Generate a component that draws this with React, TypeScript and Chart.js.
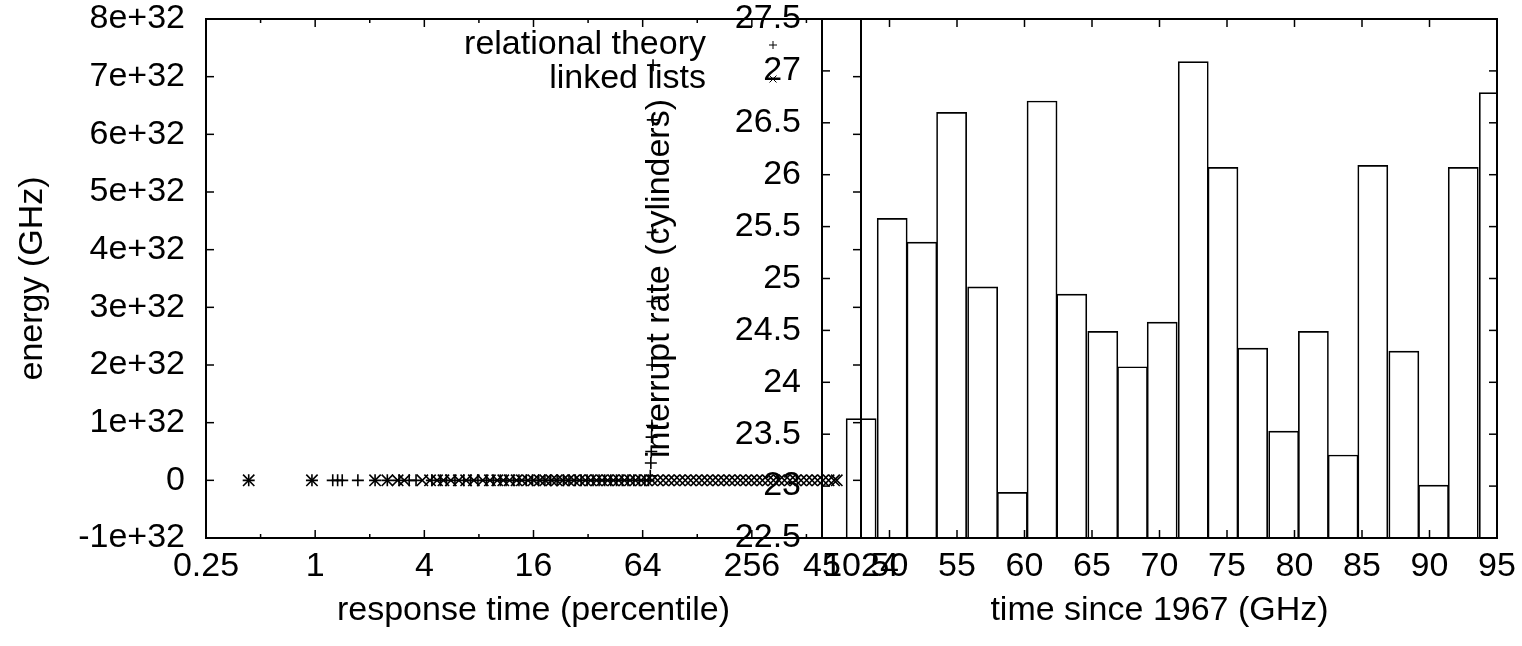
import React, { useEffect, useRef } from 'react';
import { Chart, registerables } from 'chart.js';

Chart.register(...registerables);

const FONT = "'Liberation Sans', Arial, Helvetica, sans-serif";
const FONT_SIZE = 34;

// ---- left plot: scatter on log2 x axis ----
const relationalX = [0.43, 0.96, 1.25, 1.33, 1.41, 1.72, 2.14, 2.5, 2.9, 3.3, 3.6, 4.4, 4.9, 5.3, 5.9, 6.6, 7.2, 7.9, 8.8, 9.6, 10.5, 11.3, 12.4, 13.3, 14.6, 15.8, 17.1, 18.5, 19.9, 21.6, 23.4, 25.1, 27.2, 29.3, 31.6, 34.1, 36.8, 39.5, 42.7, 45.9, 49.4, 53.1, 57.2, 61.4, 65.8, 68.9, 70.5, 71.0, 71.4, 71.7, 72.0, 72.2, 72.4, 72.6, 72.8, 73.0];
const relationalY = [0, 0, 0, 0, 0, 0, 0, 0, 0, 0, 0, 0, 0, 0, 0, 0, 0, 0, 0, 0, 0, 0, 0, 0, 0, 0, 0, 0, 0, 0, 0, 0, 0, 0, 0, 0, 0, 0, 0, 0, 0, 0, 0, 0, 0, 0, 0.08e32, 0.3e32, 0.5e32, 0.75e32, 0.95e32, 2.0e32, 3.1e32, 4.3e32, 6.25e32, 7.2e32];

const linkedX = [0.43, 0.96, 2.14, 2.5, 2.85, 3.1, 3.9, 4.3, 4.7, 5.1, 5.6, 6.2, 6.8, 7.5, 8.4, 9.2, 10.1, 10.9, 11.8, 12.9, 13.8, 14.9, 16.0, 17.3, 18.6, 20.1, 21.5, 23.2, 24.9, 26.8, 28.7, 30.9, 33.1, 35.6, 38.2, 41.0, 44.1, 47.2, 50.8, 54.5, 58.4, 62.7, 67.3, 72.1, 77.4, 83.0, 89.1, 95.5, 102.4, 109.9, 117.8, 126.4, 135.6, 145.4, 155.9, 167.3, 179.4, 192.4, 206.3, 221.3, 237.4, 254.6, 273.1, 292.9, 314.1, 336.9, 361.3, 387.5, 415.6, 445.8, 478.1, 512.8, 550.0, 589.9, 632.6, 678.5, 727.7, 753.0];
const linkedY = [0, 0, 0, 0, 0, 0, 0, 0, 0, 0, 0, 0, 0, 0, 0, 0, 0, 0, 0, 0, 0, 0, 0, 0, 0, 0, 0, 0, 0, 0, 0, 0, 0, 0, 0, 0, 0, 0, 0, 0, 0, 0, 0, 0, 0, 0, 0, 0, 0, 0, 0, 0, 0, 0, 0, 0, 0, 0, 0, 0, 0, 0, 0, 0, 0, 0, 0, 0, 0, 0, 0, 0, 0, 0, 0, 0, 0, 0];

const seriesNames = ['relational theory', 'linked lists'];

const leftXTicks = [0.25, 1, 4, 16, 64, 256, 1024];
const leftXTickLabels = ['0.25', '1', '4', '16', '64', '256', '1024'];
const leftXMinorTicks = [0.5, 2, 8, 32, 128, 512];
const leftYTicks = [-1e32, 0, 1e32, 2e32, 3e32, 4e32, 5e32, 6e32, 7e32, 8e32];
const leftYTickLabels = ['-1e+32', '0', '1e+32', '2e+32', '3e+32', '4e+32', '5e+32', '6e+32', '7e+32', '8e+32'];

// ---- right plot: boxes ----
const barX = [47.9, 50.2, 52.4, 54.6, 56.9, 59.1, 61.3, 63.5, 65.8, 68.0, 70.2, 72.5, 74.7, 76.9, 79.2, 81.4, 83.6, 85.8, 88.1, 90.3, 92.5, 94.8];
const barY = [23.65, 25.58, 25.35, 26.6, 24.92, 22.94, 26.71, 24.85, 24.49, 24.15, 24.58, 27.09, 26.07, 24.33, 23.53, 24.49, 23.30, 26.09, 24.30, 23.01, 26.07, 26.79];

const rightXTicks = [45, 50, 55, 60, 65, 70, 75, 80, 85, 90, 95];
const rightXTickLabels = ['45', '50', '55', '60', '65', '70', '75', '80', '85', '90', '95'];
const rightYTicks = [22.5, 23, 23.5, 24, 24.5, 25, 25.5, 26, 26.5, 27, 27.5];
const rightYTickLabels = ['22.5', '23', '23.5', '24', '24.5', '25', '25.5', '26', '26.5', '27', '27.5'];

type TickSet = { major: number[]; minor: number[] };

function framePlugin(xt: TickSet, yt: TickSet) {
  return {
    id: 'gnuplotFrame',
    afterDraw(chart: any) {
      const { ctx, chartArea: a } = chart;
      const xs = chart.scales.x;
      const ys = chart.scales.y;
      const seg = (x1: number, y1: number, x2: number, y2: number) => {
        ctx.beginPath();
        ctx.moveTo(x1, y1);
        ctx.lineTo(x2, y2);
        ctx.stroke();
      };
      ctx.save();
      ctx.strokeStyle = '#000';
      ctx.lineWidth = 1.5;
      xt.major.forEach((v) => {
        const p = xs.getPixelForValue(v);
        seg(p, a.bottom, p, a.bottom - 8);
        seg(p, a.top, p, a.top + 8);
      });
      xt.minor.forEach((v) => {
        const p = xs.getPixelForValue(v);
        seg(p, a.bottom, p, a.bottom - 4);
        seg(p, a.top, p, a.top + 4);
      });
      yt.major.forEach((v) => {
        const p = ys.getPixelForValue(v);
        seg(a.left, p, a.left + 8, p);
        seg(a.right, p, a.right - 8, p);
      });
      yt.minor.forEach((v) => {
        const p = ys.getPixelForValue(v);
        seg(a.left, p, a.left + 4, p);
        seg(a.right, p, a.right - 4, p);
      });
      ctx.lineWidth = 2;
      ctx.strokeRect(a.left, a.top, a.right - a.left, a.bottom - a.top);
      ctx.restore();
    },
  };
}

const keyPlugin = {
  id: 'gnuplotKey',
  afterDraw(chart: any) {
    const ctx = chart.ctx;
    const textRight = 706;
    const markX = 773;
    const rows = [45, 79];
    ctx.save();
    ctx.font = `${FONT_SIZE}px ${FONT}`;
    ctx.fillStyle = '#000';
    ctx.strokeStyle = '#000';
    ctx.lineWidth = 1;
    ctx.textAlign = 'right';
    ctx.textBaseline = 'middle';
    seriesNames.forEach((name, i) => {
      const y = rows[i];
      ctx.fillText(name, textRight, y);
      ctx.beginPath();
      if (i === 0) {
        ctx.moveTo(markX - 4, y);
        ctx.lineTo(markX + 4, y);
        ctx.moveTo(markX, y - 4);
        ctx.lineTo(markX, y + 4);
      } else {
        ctx.moveTo(markX - 3.5, y - 3.5);
        ctx.lineTo(markX + 3.5, y + 3.5);
        ctx.moveTo(markX - 3.5, y + 3.5);
        ctx.lineTo(markX + 3.5, y - 3.5);
      }
      ctx.stroke();
    });
    ctx.restore();
  },
};

const W = 1522;
const H = 646;
const PLOT_TOP = 19;
const PLOT_BOTTOM = 538;

export default function App() {
  const leftRef = useRef<HTMLCanvasElement>(null);
  const rightRef = useRef<HTMLCanvasElement>(null);

  useEffect(() => {
    Chart.defaults.font.family = FONT;
    Chart.defaults.font.size = FONT_SIZE;
    Chart.defaults.color = '#000';

    const xAxisCommon = (labels: string[], ticks: number[], title: string) => ({
      position: 'bottom' as const,
      afterBuildTicks: (s: any) => {
        s.ticks = ticks.map((v) => ({ value: v }));
      },
      afterFit: (s: any) => {
        s.height = H - PLOT_BOTTOM;
        s.paddingLeft = 0;
        s.paddingRight = 0;
      },
      ticks: {
        autoSkip: false,
        maxRotation: 0,
        minRotation: 0,
        padding: 8,
        color: '#000',
        callback: (_v: any, i: number) => labels[i],
      },
      grid: { display: false, drawTicks: false },
      border: { display: false },
      title: { display: true, text: title, color: '#000', padding: { top: 0, bottom: 15 } },
    });

    const yAxisCommon = (labels: string[], ticks: number[], title: string, width: number, titlePad: number) => ({
      position: 'left' as const,
      afterBuildTicks: (s: any) => {
        s.ticks = ticks.map((v) => ({ value: v }));
      },
      afterFit: (s: any) => {
        s.width = width;
        s.paddingTop = 0;
        s.paddingBottom = 0;
      },
      ticks: {
        autoSkip: false,
        padding: 21,
        color: '#000',
        callback: (_v: any, i: number) => labels[i],
      },
      grid: { display: false, drawTicks: false },
      border: { display: false },
      title: { display: true, text: title, color: '#000', padding: { top: titlePad, bottom: 0 } },
    });

    const left = new Chart(leftRef.current as HTMLCanvasElement, {
      type: 'scatter',
      data: {
        datasets: [
          {
            label: seriesNames[0],
            data: relationalX.map((x, i) => ({ x, y: relationalY[i] })),
            pointStyle: 'cross',
            pointRadius: 6,
            borderColor: '#000',
            backgroundColor: 'rgba(0,0,0,0)',
            borderWidth: 1.6,
            showLine: false,
          },
          {
            label: seriesNames[1],
            data: linkedX.map((x, i) => ({ x, y: linkedY[i] })),
            pointStyle: 'crossRot',
            pointRadius: 8,
            borderColor: '#000',
            backgroundColor: 'rgba(0,0,0,0)',
            borderWidth: 1.6,
            showLine: false,
          },
        ],
      },
      options: {
        responsive: false,
        animation: false,
        devicePixelRatio: 1,
        events: [],
        layout: { padding: { top: PLOT_TOP, right: W - 861, left: 0, bottom: 0 } },
        plugins: { legend: { display: false }, tooltip: { enabled: false } },
        scales: {
          x: {
            type: 'logarithmic',
            min: 0.25,
            max: 1024,
            ...xAxisCommon(leftXTickLabels, leftXTicks, 'response time (percentile)'),
          } as any,
          y: {
            type: 'linear',
            min: -1e32,
            max: 8e32,
            ...yAxisCommon(leftYTickLabels, leftYTicks, 'energy (GHz)', 206, 12.6),
          } as any,
        },
      },
      plugins: [framePlugin({ major: leftXTicks, minor: leftXMinorTicks }, { major: leftYTicks, minor: [] }), keyPlugin],
    });

    const right = new Chart(rightRef.current as HTMLCanvasElement, {
      type: 'bar',
      data: {
        datasets: [
          {
            label: 'interrupt rate',
            data: barX.map((x, i) => ({ x, y: barY[i] })) as any,
            backgroundColor: 'rgba(0,0,0,0)',
            borderColor: '#000',
            borderWidth: 1,
            borderSkipped: 'start',
            barThickness: 30.1,
            base: 22.5,
            clip: 0,
          } as any,
        ],
      },
      options: {
        responsive: false,
        animation: false,
        devicePixelRatio: 1,
        events: [],
        layout: { padding: { top: PLOT_TOP, right: W - 1497, left: 0, bottom: 0 } },
        plugins: { legend: { display: false }, tooltip: { enabled: false } },
        scales: {
          x: {
            type: 'linear',
            offset: false,
            min: 45,
            max: 95,
            ...xAxisCommon(rightXTickLabels, rightXTicks, 'time since 1967 (GHz)'),
          } as any,
          y: {
            type: 'linear',
            min: 22.5,
            max: 27.5,
            ...yAxisCommon(rightYTickLabels, rightYTicks, 'interrupt rate (cylinders)', 822, 639.6),
          } as any,
        },
      },
      plugins: [framePlugin({ major: rightXTicks, minor: [] }, { major: rightYTicks, minor: [] })],
    });

    return () => {
      left.destroy();
      right.destroy();
    };
  }, []);

  return (
    <div style={{ position: 'absolute', left: 0, top: 0, width: W, height: H, background: '#fff' }}>
      <canvas ref={leftRef} width={W} height={H} style={{ position: 'absolute', left: 0, top: 0 }} />
      <canvas ref={rightRef} width={W} height={H} style={{ position: 'absolute', left: 0, top: 0 }} />
    </div>
  );
}
